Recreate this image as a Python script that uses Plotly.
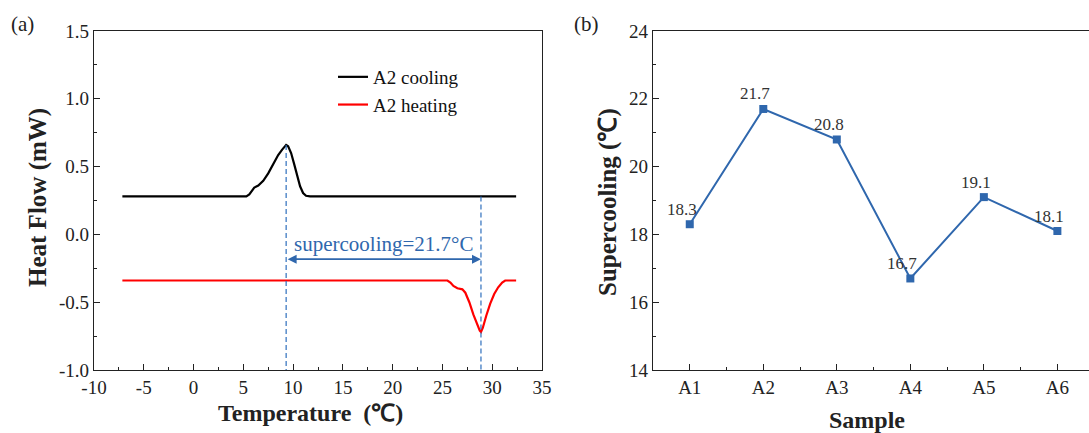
import plotly.graph_objects as go

# ---- data ----
cooling_T = [-7.15, 5.3, 5.6, 5.85, 6.1, 6.5, 7.0, 7.5, 8.0, 8.5, 8.9, 9.15, 9.3, 9.5, 9.8, 10.1,
             10.4, 10.7, 11.0, 11.3, 11.7, 32.4]
cooling_HF = [0.28, 0.28, 0.295, 0.325, 0.345, 0.36, 0.395, 0.45, 0.52, 0.585, 0.625, 0.65, 0.66,
              0.65, 0.60, 0.52, 0.43, 0.355, 0.305, 0.285, 0.28, 0.28]
heating_T = [-7.15, 25.5, 25.8, 26.1, 26.5, 27.0, 27.3, 27.7, 28.1, 28.5, 28.75, 28.87, 29.05, 29.4,
             29.8, 30.2, 30.6, 31.0, 31.3, 32.4]
heating_HF = [-0.34, -0.34, -0.355, -0.38, -0.397, -0.405, -0.43, -0.50, -0.59, -0.67, -0.71, -0.72,
              -0.69, -0.60, -0.51, -0.44, -0.39, -0.355, -0.34, -0.34]
samples = ["A1", "A2", "A3", "A4", "A5", "A6"]
supercooling = [18.3, 21.7, 20.8, 16.7, 19.1, 18.1]
x1_ticks = [-10, -5, 0, 5, 10, 15, 20, 25, 30, 35]
x1_ticktext = ["-10", "-5", "0", "5", "10", "15", "20", "25", "30", "35"]
y1_ticks = [-1.0, -0.5, 0.0, 0.5, 1.0, 1.5]
y1_ticktext = ["-1.0", "-0.5", "0.0", "0.5", "1.0", "1.5"]
y2_ticks = [14, 16, 18, 20, 22, 24]
freeze_T, freeze_HF = 9.3, 0.66
melt_T, melt_base = 28.87, 0.28
arrow_y = -0.183

W, H = 1089, 433
FONT = "Liberation Serif"
BLUE = "#2f67ad"
DASH_BLUE = "#2e6fbd"

def px_x(p):
    return p / W

def px_y(p):
    return 1 - p / H

fig = go.Figure()
fig.add_trace(go.Scatter(x=cooling_T, y=cooling_HF, mode="lines", name="A2 cooling",
                         line=dict(color="black", width=2.2),
                         xaxis="x", yaxis="y"))
fig.add_trace(go.Scatter(x=heating_T, y=heating_HF, mode="lines", name="A2 heating",
                         line=dict(color="#ff0000", width=2.2),
                         xaxis="x", yaxis="y"))
fig.add_trace(go.Scatter(x=list(range(1, 7)), y=supercooling, mode="lines+markers", showlegend=False,
                         line=dict(color=BLUE, width=2),
                         marker=dict(symbol="square", size=8, color=BLUE),
                         xaxis="x2", yaxis="y2"))

ax_common = dict(showline=True, linecolor="#222", linewidth=1.2, ticks="inside", ticklen=6,
                 tickcolor="#222", showgrid=False, zeroline=False, automargin=False,
                 tickfont=dict(family=FONT, size=19, color="#222"))

ydom = [px_y(370), px_y(31)]
fig.update_layout(
    template="none",
    width=W, height=H, margin=dict(l=0, r=0, t=0, b=0, pad=0),
    paper_bgcolor="white", plot_bgcolor="white",
    xaxis=dict(domain=[px_x(94), px_x(542)], range=[-10, 35], tickvals=x1_ticks, ticktext=x1_ticktext,
               minor=dict(dtick=2.5, ticks="inside", ticklen=3, tickcolor="#222"),
               mirror=True, anchor="y", **ax_common),
    yaxis=dict(domain=ydom, range=[-1.0, 1.5], tickvals=y1_ticks, ticktext=y1_ticktext,
               minor=dict(dtick=0.25, ticks="inside", ticklen=3, tickcolor="#222"),
               mirror=True, anchor="x", **ax_common),
    xaxis2=dict(domain=[px_x(653), 1.0], range=[0.5, 6.43], tickvals=list(range(1, 7)),
                ticktext=samples,
                minor=dict(tickvals=[1.5, 2.5, 3.5, 4.5, 5.5], ticks="inside", ticklen=3, tickcolor="#222"),
                mirror=True, anchor="y2", **ax_common),
    yaxis2=dict(domain=ydom, range=[14, 24], tickvals=y2_ticks,
                minor=dict(dtick=1, ticks="inside", ticklen=3, tickcolor="#222"),
                mirror=False, anchor="x2", **ax_common),
    legend=dict(x=px_x(333), y=px_y(58), xanchor="left", yanchor="top",
                font=dict(family=FONT, size=19, color="#111"), bgcolor="rgba(0,0,0,0)",
                tracegroupgap=2),
)

# dashed guide lines
fig.add_shape(type="line", xref="x", yref="y", x0=freeze_T, x1=freeze_T, y0=freeze_HF, y1=-1.0,
              line=dict(color=DASH_BLUE, width=1.2, dash="5px,3px"))
fig.add_shape(type="line", xref="x", yref="y", x0=melt_T, x1=melt_T, y0=melt_base, y1=-1.0,
              line=dict(color=DASH_BLUE, width=1.2, dash="5px,3px"))
# double-headed arrow
fig.add_annotation(xref="x", yref="y", axref="x", ayref="y", x=melt_T, y=arrow_y,
                   ax=freeze_T, ay=arrow_y, text="", showarrow=True, arrowside="end+start",
                   arrowhead=2, startarrowhead=2, arrowsize=1.0, arrowwidth=1.8, arrowcolor=BLUE)
fig.add_annotation(xref="x", yref="y", x=(freeze_T + melt_T) / 2, y=arrow_y, yshift=15,
                   text="supercooling=21.7°C", showarrow=False,
                   font=dict(family=FONT, size=21, color=BLUE))

# data labels panel b
for i, v in enumerate(supercooling):
    fig.add_annotation(xref="x2", yref="y2", x=i + 1, y=v, text=f"{v:.1f}", showarrow=False,
                       xshift=-8, yshift=15, font=dict(family=FONT, size=17, color="#333"))

# axis titles and panel labels
def txt(x, y, t, size=24, bold=True, angle=0):
    fig.add_annotation(xref="paper", yref="paper", x=px_x(x), y=px_y(y), text=f"<b>{t}</b>" if bold else t,
                       showarrow=False, textangle=angle, xanchor="center", yanchor="middle",
                       font=dict(family=FONT, size=size, color="#222"))

txt(38, 198, "Heat Flow (mW)", size=25, angle=-90)
txt(310, 413, "Temperature\u2002(℃)", size=24)
txt(608, 202, "Supercooling (℃)", size=25, angle=-90)
txt(867, 420, "Sample", size=24)
txt(22, 24, "(a)", size=21, bold=False)
txt(586, 24, "(b)", size=21, bold=False)

fig.write_html("out.html")
